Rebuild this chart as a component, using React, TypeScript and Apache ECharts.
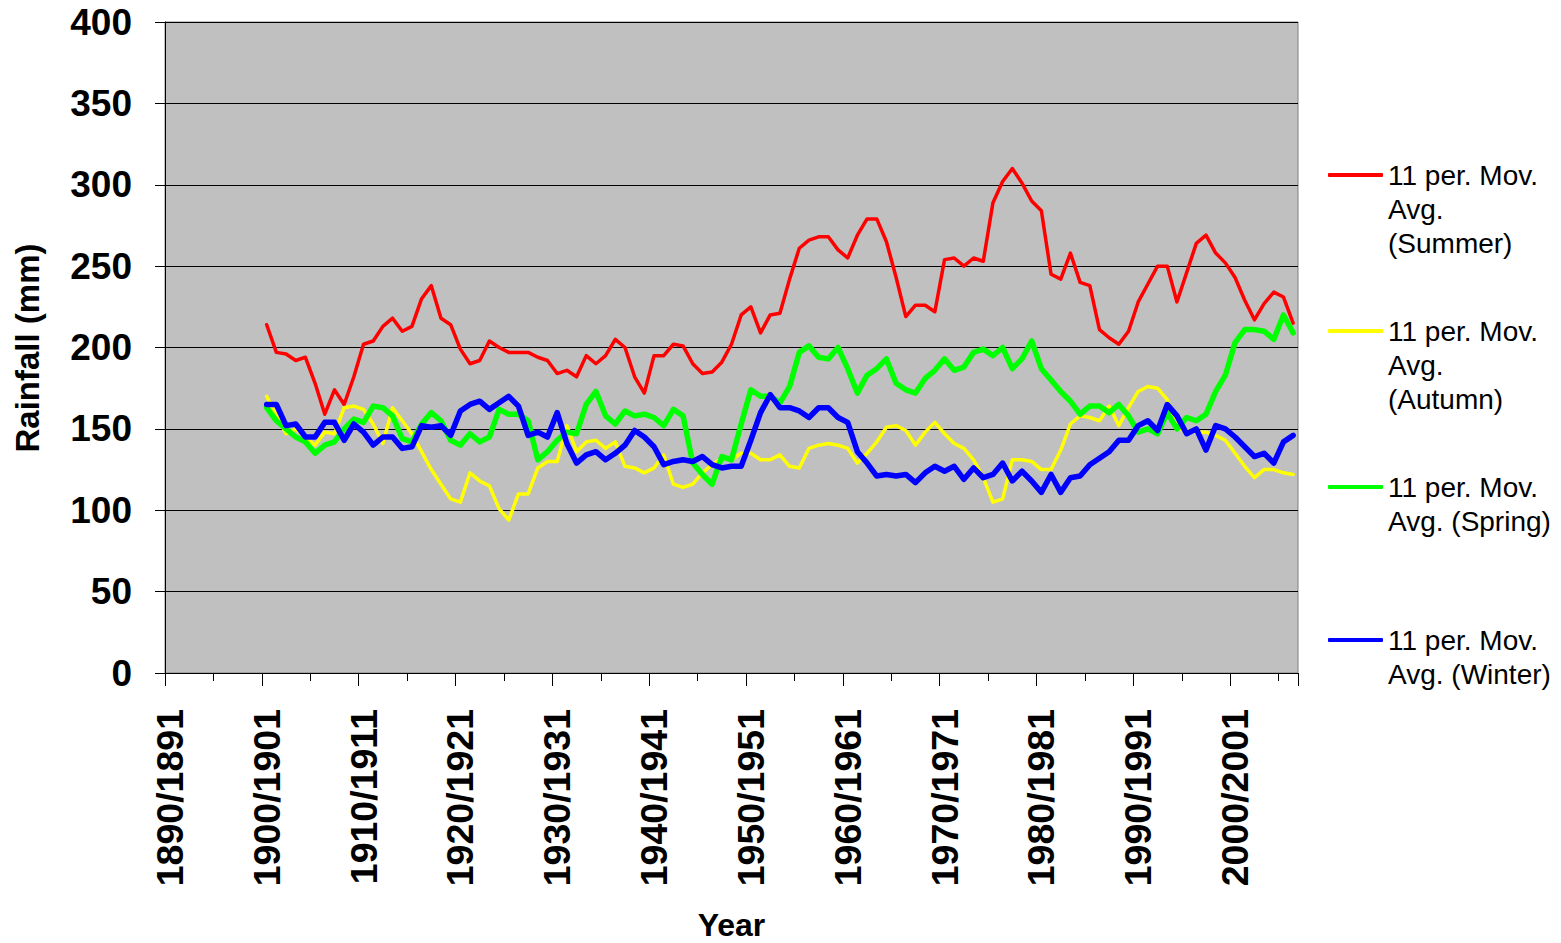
import React, { useEffect, useRef } from "react";
import * as echarts from "echarts";

const categories: string[] = [];
for (let y = 1890; y <= 2006; y++) categories.push(`${y}/${y + 1}`);

const N = null;
const lead = [N, N, N, N, N, N, N, N, N, N];

const summer = [...lead,
  214, 197, 196, 192, 194, 178, 159, 174, 165, 182,
  202, 204, 213, 218, 210, 213, 230, 238, 218, 214,
  199, 190, 192, 204, 200, 197, 197, 197, 194, 192,
  184, 186, 182, 195, 190, 195, 205, 200, 182, 172,
  195, 195, 202, 201, 190, 184, 185, 191, 202, 220,
  225, 209, 220, 221, 242, 261, 266, 268, 268, 260,
  255, 269, 279, 279, 265, 243, 219, 226, 226, 222,
  254, 255, 250, 255, 253, 289, 302, 310, 301, 290,
  284, 245, 242, 258, 240, 238, 211, 206, 202, 210,
  228, 239, 250, 250, 228, 246, 264, 269, 258, 252,
  243, 229, 217, 227, 234, 231, 215];

const autumn = [...lead,
  170, 158, 147, 150, 145, 140, 148, 147, 163, 164,
  162, 153, 141, 163, 155, 147, 136, 125, 116, 107,
  105, 123, 118, 115, 101, 94, 110, 110, 126, 130,
  130, 152, 136, 142, 143, 138, 142, 127, 126, 123,
  126, 134, 116, 114, 116, 123, 128, 132, 131, 135,
  135, 131, 131, 134, 127, 126, 138, 140, 141, 140,
  138, 129, 135, 142, 151, 152, 149, 140, 148, 154,
  147, 141, 138, 131, 120, 105, 107, 131, 131, 130,
  125, 125, 137, 153, 158, 157, 155, 164, 152, 163,
  173, 176, 175, 168, 150, 149, 148, 148, 146, 143,
  135, 127, 120, 125, 125, 123, 122];

const spring = [...lead,
  163, 155, 150, 145, 142, 135, 140, 142, 150, 156,
  154, 164, 163, 158, 144, 142, 153, 160, 155, 143,
  140, 147, 142, 145, 162, 159, 159, 155, 131, 136,
  143, 148, 147, 165, 173, 158, 153, 161, 158, 159,
  157, 152, 162, 158, 129, 122, 116, 133, 131, 153,
  174, 170, 170, 166, 176, 197, 201, 194, 193, 200,
  187, 172, 183, 187, 193, 178, 174, 172, 181, 186,
  193, 186, 188, 197, 199, 195, 200, 187, 193, 204,
  187, 180, 173, 167, 159, 164, 164, 160, 165, 158,
  148, 150, 147, 160, 150, 157, 155, 159, 173, 183,
  203, 211, 211, 210, 205, 220, 209];

const winter = [...lead,
  165, 165, 152, 153, 145, 145, 154, 154, 143, 153,
  148, 140, 145, 145, 138, 139, 152, 151, 152, 146,
  161, 165, 167, 162, 166, 170, 164, 146, 148, 145,
  160, 141, 129, 134, 136, 131, 135, 140, 149, 145,
  139, 128, 130, 131, 130, 133, 128, 126, 127, 127,
  143, 160, 171, 163, 163, 161, 157, 163, 163, 157,
  154, 136, 129, 121, 122, 121, 122, 117, 123, 127,
  124, 127, 119, 126, 120, 122, 129, 118, 124, 118,
  111, 122, 111, 120, 121, 128, 132, 136, 143, 143,
  152, 155, 149, 165, 158, 147, 150, 137, 152, 150,
  145, 139, 133, 135, 129, 142, 146];

const seriesNames = [
  "11 per. Mov. Avg. (Summer)",
  "11 per. Mov. Avg. (Autumn)",
  "11 per. Mov. Avg. (Spring)",
  "11 per. Mov. Avg. (Winter)",
];
const legendLabels = [
  "\n\n11 per. Mov.\nAvg.\n(Summer)",
  "\n\n11 per. Mov.\nAvg.\n(Autumn)",
  "\n11 per. Mov.\nAvg. (Spring)",
  "\n11 per. Mov.\nAvg. (Winter)",
];
const yTicks = { min: 0, max: 400, interval: 50 };

const FONT = "Liberation Sans";

export default function App() {
  const ref = useRef<HTMLDivElement>(null);
  useEffect(() => {
    if (!ref.current) return;
    const chart = echarts.init(ref.current, undefined, { renderer: "svg" });
    const colors = ["#FF0000", "#FFFF00", "#00FF00", "#0000FF"];
    const widths = [3.5, 3.5, 5.5, 5.5];
    const datasets = [summer, autumn, spring, winter];
    const legendTops = [90, 246, 436, 589];

    const option: any = {
      animation: false,
      backgroundColor: "#FFFFFF",
      grid: {
        left: 165,
        right: 263,
        top: 22,
        bottom: 270,
        show: true,
        backgroundColor: "#C0C0C0",
        borderColor: "#808080",
        borderWidth: 1,
        containLabel: false,
        outerBoundsMode: "none",
      },
      xAxis: [
        {
          type: "category",
          data: categories,
          boundaryGap: true,
          position: "bottom",
          axisLine: { show: true, lineStyle: { color: "#000", width: 1 } },
          axisTick: { show: true, interval: 9, length: 13, lineStyle: { color: "#000", width: 1 } },
          axisLabel: {
            interval: 9,
            rotate: 90,
            margin: 36,
            color: "#000",
            fontFamily: FONT,
            fontWeight: "bold",
            fontSize: 37.5,
          },
          splitLine: { show: false },
          name: "Year",
          nameLocation: "middle",
          nameGap: 236,
          nameMoveOverlap: false,
          nameTextStyle: { color: "#000", fontFamily: FONT, fontWeight: "bold", fontSize: 32 },
        },
        {
          type: "category",
          data: categories,
          boundaryGap: true,
          position: "bottom",
          axisLine: { show: false },
          axisTick: { show: true, interval: 4, length: 8, lineStyle: { color: "#000", width: 1 } },
          axisLabel: { show: false },
          splitLine: { show: false },
        },
      ],
      yAxis: {
        type: "value",
        min: yTicks.min,
        max: yTicks.max,
        interval: yTicks.interval,
        axisLine: { show: true, lineStyle: { color: "#000", width: 1 } },
        axisTick: { show: true, length: 10, lineStyle: { color: "#000", width: 1 } },
        axisLabel: {
          margin: 33,
          color: "#000",
          fontFamily: FONT,
          fontWeight: "bold",
          fontSize: 37,
        },
        splitLine: { show: true, lineStyle: { color: "#000", width: 1 } },
      },
      legend: seriesNames.map((name, i) => ({
        data: [name],
        orient: "vertical",
        left: 1328,
        top: legendTops[i],
        padding: 0,
        itemWidth: 55,
        itemHeight: 4,
        icon: "roundRect",
        formatter: () => legendLabels[i],
        selectedMode: false,
        textStyle: { color: "#000", fontFamily: FONT, fontSize: 28, lineHeight: 34 },
      })),
      graphic: [
        {
          type: "text",
          x: 27,
          y: 348,
          rotation: Math.PI / 2,
          style: {
            text: "Rainfall (mm)",
            fill: "#000",
            fontFamily: FONT,
            fontWeight: "bold",
            fontSize: 33,
            textAlign: "center",
            textVerticalAlign: "middle",
          },
        },
      ],
      series: datasets.map((d, i) => ({
        name: seriesNames[i],
        type: "line",
        xAxisIndex: 0,
        data: d,
        symbol: "none",
        connectNulls: false,
        color: colors[i],
        lineStyle: { color: colors[i], width: widths[i], cap: "round", join: "round" },
        emphasis: { disabled: true },
      })),
    };
    chart.setOption(option);
    return () => chart.dispose();
  }, []);
  return (
    <div
      ref={ref}
      style={{ position: "absolute", left: 0, top: 0, width: 1561, height: 943 }}
    />
  );
}
